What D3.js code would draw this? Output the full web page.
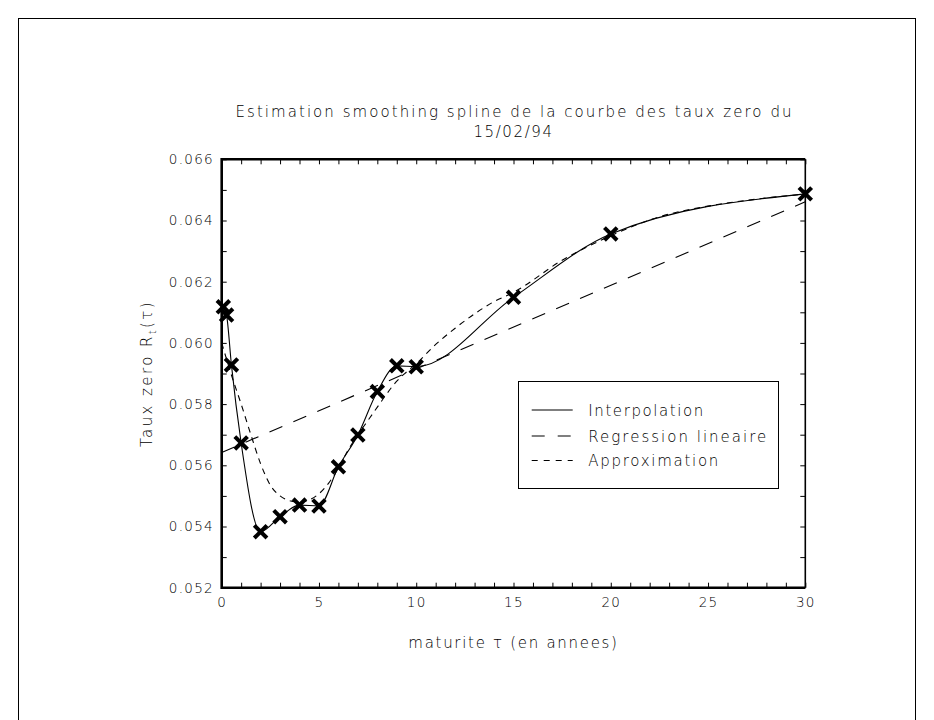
<!DOCTYPE html>
<html>
<head>
<meta charset="utf-8">
<script src="https://cdn.jsdelivr.net/npm/d3@7"></script>
<style>
  html, body { margin: 0; padding: 0; background: #fff; }
  svg { display: block; }
  text { font-family: "DejaVu Sans", "Liberation Sans", sans-serif; font-weight: 200; fill: #000; }
</style>
</head>
<body>
<svg id="chart" width="934" height="720"></svg>
<script>
// Observed zero-coupon rates (15/02/94) by maturity in years
const maturities = [0.083, 0.25, 0.5, 1, 2, 3, 4, 5, 6, 7, 8, 9, 10, 15, 20, 30];
const zeroRates  = [0.06118, 0.06091, 0.05928, 0.05673, 0.05383, 0.05432, 0.05470, 0.05467,
                    0.05595, 0.05699, 0.05841, 0.05925, 0.05922, 0.06149, 0.06356, 0.06487];

// Smoothing spline (approximation) read at selected maturities
const approxMaturities = [0, 0.5, 1, 1.5, 2, 2.5, 3, 3.5, 4, 4.5, 5, 5.5, 6, 6.5, 7, 7.5, 8, 8.5,
                          9, 9.5, 10, 11, 12, 13, 14, 15, 17.5, 20, 22.5, 25, 27.5, 30];
const approxRates = [0.06000, 0.05895, 0.05800, 0.05700, 0.05605, 0.05535, 0.05500, 0.05484,
                     0.05480, 0.05487, 0.05507, 0.05542, 0.05590, 0.05650, 0.05700, 0.05745,
                     0.05790, 0.05835, 0.05875, 0.05905, 0.05932, 0.05995, 0.06048, 0.06095,
                     0.06135, 0.06165, 0.06270, 0.06350, 0.06412, 0.06447, 0.06470, 0.06486];

// Linear regression line end points
const regressionMaturities = [0, 30];
const regressionRates = [0.05642, 0.06461];

// Axis labels
const xTickLabels = [0, 5, 10, 15, 20, 25, 30];
const yTickLabels = [0.052, 0.054, 0.056, 0.058, 0.060, 0.062, 0.064, 0.066];
const xMinorTicks = d3.range(0, 31, 1);
const yMinorTicks = d3.range(52, 67, 1).map(v => v / 1000);

const legendLabels = ["Interpolation", "Regression lineaire", "Approximation"];
const titleLines = ["Estimation smoothing spline de la courbe des taux zero du", "15/02/94"];

const svg = d3.select("#chart");

// page frame
svg.append("rect")
  .attr("x", 18.5).attr("y", 18.5)
  .attr("width", 897).attr("height", 720)
  .attr("fill", "none").attr("stroke", "#000").attr("stroke-width", 1);

const plotLeft = 221.7, plotRight = 805.3, plotTop = 159.3, plotBottom = 587.7;
const x = d3.scaleLinear().domain([0, 30]).range([plotLeft, plotRight]);
const y = d3.scaleLinear().domain([0.052, 0.066]).range([plotBottom, plotTop]);

// ticks (inward) on all four sides
const tickLen = -5;
const axes = svg.append("g").attr("class", "axes");

axes.append("g").attr("transform", `translate(0,${plotBottom})`)
  .call(d3.axisBottom(x).tickValues(xMinorTicks).tickSize(tickLen).tickFormat(""));
axes.append("g").attr("transform", `translate(0,${plotBottom})`)
  .call(d3.axisBottom(x).tickValues(xTickLabels).tickSize(0).tickPadding(10).tickFormat(d3.format("d")));
axes.append("g").attr("transform", `translate(0,${plotTop})`)
  .call(d3.axisTop(x).tickValues(xMinorTicks).tickSize(tickLen).tickFormat(""));
axes.append("g").attr("transform", `translate(${plotLeft},0)`)
  .call(d3.axisLeft(y).tickValues(yMinorTicks).tickSize(tickLen).tickFormat(""));
const leftLabels = axes.append("g").attr("transform", `translate(${plotLeft},0)`)
  .call(d3.axisLeft(y).tickValues(yTickLabels).tickSize(0).tickPadding(9).tickFormat(d3.format(".3f")));
axes.append("g").attr("transform", `translate(${plotRight},0)`)
  .call(d3.axisRight(y).tickValues(yMinorTicks).tickSize(tickLen).tickFormat(""));

axes.selectAll(".domain").remove();
axes.selectAll(".tick line").attr("stroke", "#000").attr("stroke-width", 1);
axes.selectAll(".tick text")
  .attr("font-family", null).attr("fill", null)
  .style("font-size", "13.5px").style("letter-spacing", "1.3px");
leftLabels.selectAll(".tick text").attr("dx", "1.3px");

// plot box: heavier left, top and bottom edges
const box = svg.append("g");
box.append("line").attr("x1", plotLeft).attr("x2", plotLeft).attr("y1", plotTop - 1.2).attr("y2", plotBottom + 1.2)
  .attr("stroke", "#000").attr("stroke-width", 2.6);
box.append("line").attr("x1", plotLeft).attr("x2", plotRight).attr("y1", plotBottom).attr("y2", plotBottom)
  .attr("stroke", "#000").attr("stroke-width", 2.6);
box.append("line").attr("x1", plotLeft).attr("x2", plotRight).attr("y1", plotTop).attr("y2", plotTop)
  .attr("stroke", "#000").attr("stroke-width", 2.4);
box.append("line").attr("x1", plotRight).attr("x2", plotRight).attr("y1", plotTop).attr("y2", plotBottom)
  .attr("stroke", "#000").attr("stroke-width", 1.6);

// curves
const curves = svg.append("g").attr("fill", "none").attr("stroke", "#000");

const regressionLine = d3.line().x(d => x(d[0])).y(d => y(d[1]));
curves.append("path")
  .datum(d3.zip(regressionMaturities, regressionRates))
  .attr("d", regressionLine)
  .attr("stroke-width", 1.1)
  .attr("stroke-dasharray", "14,12");

const approxLine = d3.line().x(d => x(d[0])).y(d => y(d[1])).curve(d3.curveMonotoneX);
curves.append("path")
  .datum(d3.zip(approxMaturities, approxRates))
  .attr("d", approxLine)
  .attr("stroke-width", 1.1)
  .attr("stroke-dasharray", "6,5");

const interpLine = d3.line().x(d => x(d[0])).y(d => y(d[1])).curve(d3.curveMonotoneX);
curves.append("path")
  .datum(d3.zip(maturities, zeroRates))
  .attr("d", interpLine)
  .attr("stroke-width", 1.1);

// observed points drawn as bold crosses
const crossShape = {
  draw(ctx, size) {
    const r = Math.sqrt(size) / 2;
    ctx.moveTo(-r, -r); ctx.lineTo(r, r);
    ctx.moveTo(-r, r); ctx.lineTo(r, -r);
  }
};
svg.append("g").selectAll("path")
  .data(d3.zip(maturities, zeroRates))
  .join("path")
  .attr("transform", d => `translate(${x(d[0])},${y(d[1])})`)
  .attr("d", d3.symbol().type(crossShape).size(160))
  .attr("fill", "none").attr("stroke", "#000").attr("stroke-width", 4);

// title
const cx = (plotLeft + plotRight) / 2;
svg.append("text").attr("x", cx).attr("y", 117).attr("text-anchor", "middle")
  .style("font-size", "15px").attr("textLength", 556).attr("lengthAdjust", "spacing")
  .text(titleLines[0]);
svg.append("text").attr("x", cx).attr("y", 137).attr("text-anchor", "middle")
  .style("font-size", "15px").style("letter-spacing", "1.6px")
  .text(titleLines[1]);

// axis titles
svg.append("text").attr("x", cx).attr("y", 648).attr("text-anchor", "middle")
  .style("font-size", "15px").style("letter-spacing", "1.7px")
  .text("maturite τ (en annees)");

const yTitle = svg.append("text")
  .attr("transform", `translate(152,${(plotTop + plotBottom) / 2}) rotate(-90)`)
  .attr("text-anchor", "middle")
  .style("font-size", "15px").style("letter-spacing", "2.4px");
yTitle.append("tspan").text("Taux zero R");
yTitle.append("tspan").attr("dy", 4).style("font-size", "10px").text("t");
yTitle.append("tspan").attr("dy", -4).text("(τ)");

// legend
const legend = svg.append("g");
legend.append("rect")
  .attr("x", 518.5).attr("y", 381.5).attr("width", 260).attr("height", 107)
  .attr("fill", "#fff").attr("stroke", "#000").attr("stroke-width", 1);
const legendDash = [null, "13,13", "6,6"];
const legendRowY = [410, 436, 460.5];
const legendTextLen = [115, 178, 130];
legendLabels.forEach((label, i) => {
  legend.append("line")
    .attr("x1", 531.7).attr("x2", 572.7)
    .attr("y1", legendRowY[i]).attr("y2", legendRowY[i])
    .attr("stroke", "#000").attr("stroke-width", 1.1)
    .attr("stroke-dasharray", legendDash[i]);
  legend.append("text")
    .attr("x", 588.3).attr("y", legendRowY[i] + 5.5)
    .style("font-size", "15px")
    .attr("textLength", legendTextLen[i]).attr("lengthAdjust", "spacing")
    .text(label);
});
</script>
</body>
</html>
